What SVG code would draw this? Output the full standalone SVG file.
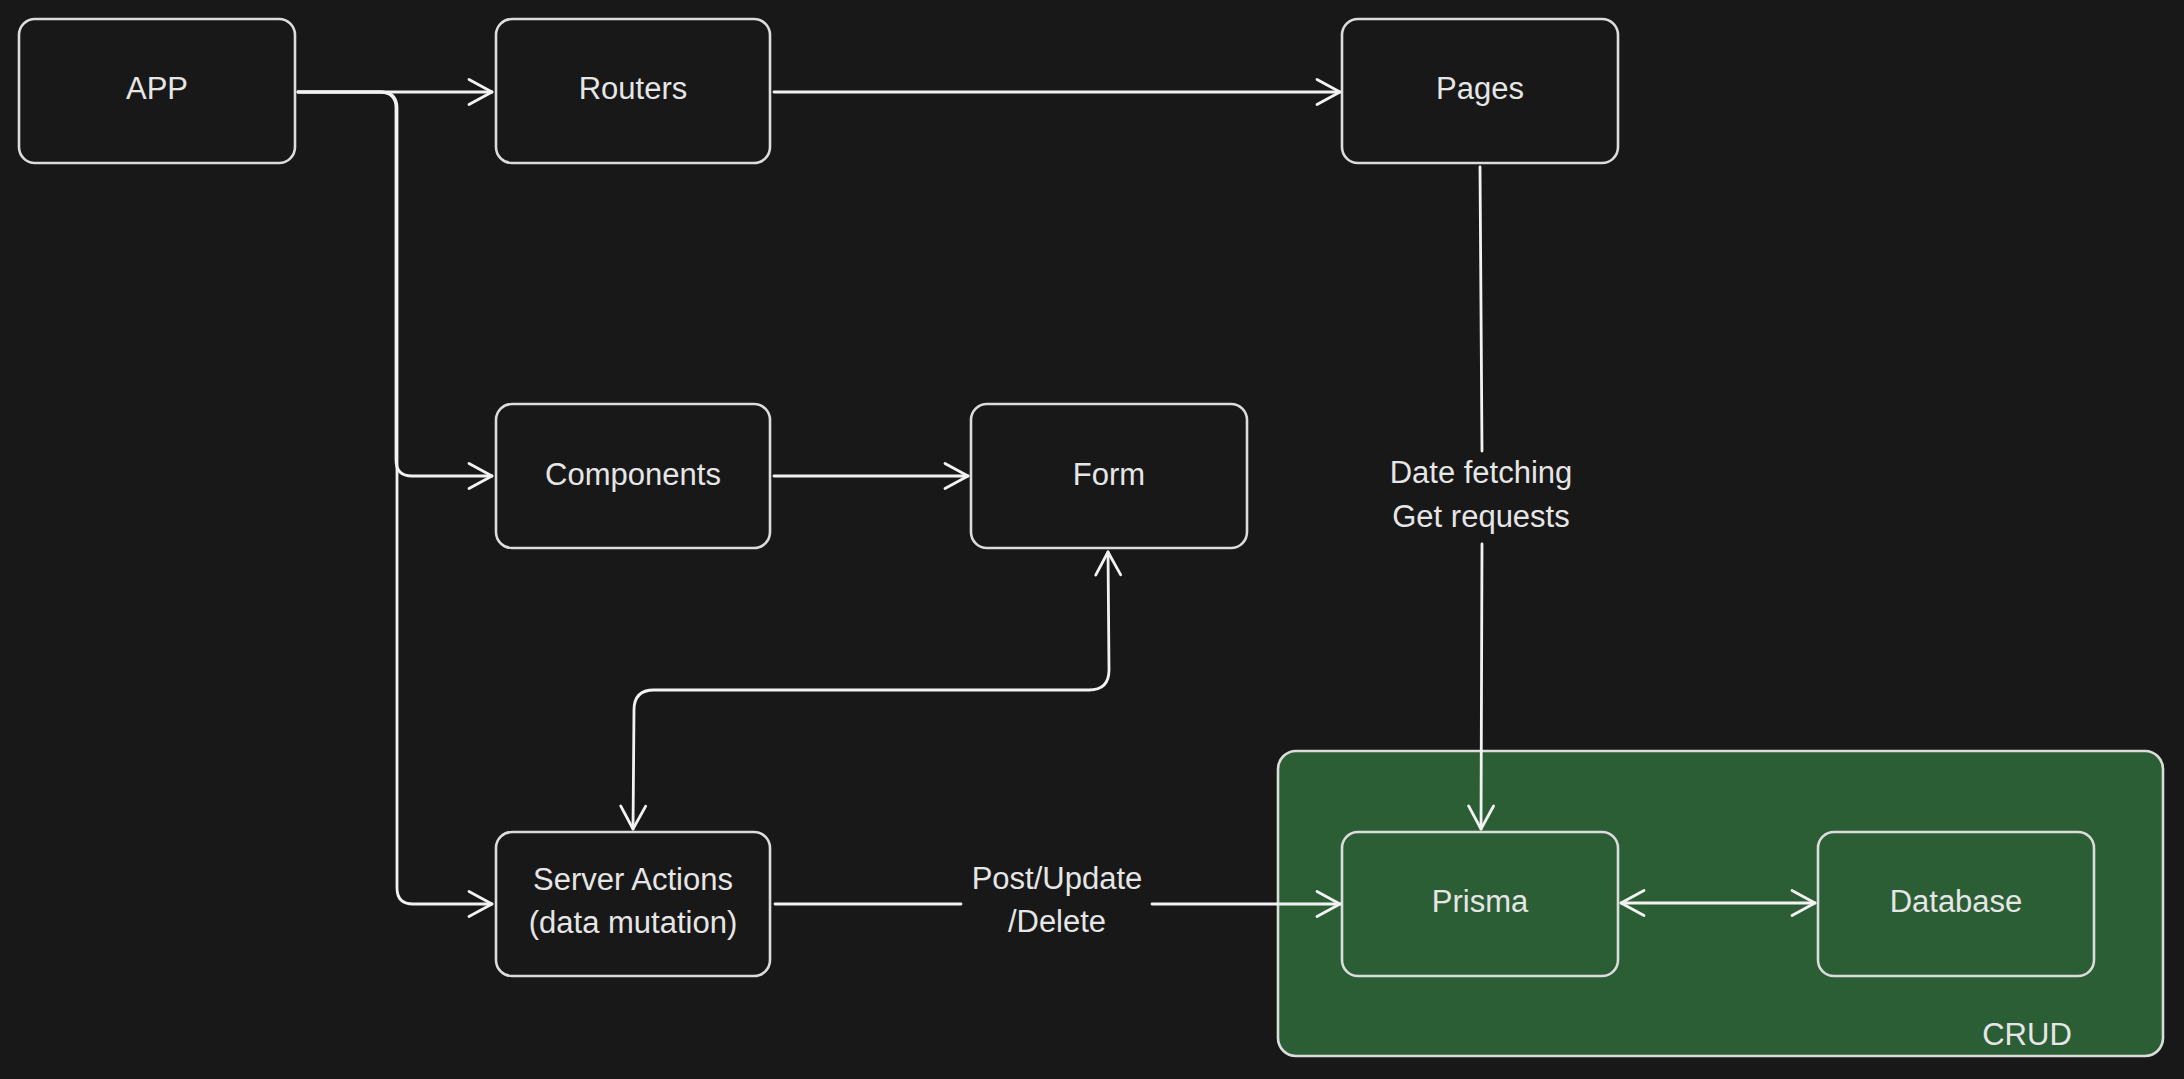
<svg xmlns="http://www.w3.org/2000/svg" width="2184" height="1079" viewBox="0 0 2184 1079">
<defs>
<style>
.box{fill:none;stroke:#dcdcdc;stroke-width:2.6}
.lbl{font-family:"Liberation Sans",Arial,sans-serif;font-size:31px;fill:#e6e6e6;text-anchor:middle}
.con{fill:none;stroke:#f2f2f2;stroke-width:2.8;stroke-linecap:round;stroke-linejoin:round}
</style>
<marker id="ah" viewBox="-30 -16 34 32" refX="0" refY="0" markerWidth="34" markerHeight="32" markerUnits="userSpaceOnUse" orient="auto-start-reverse">
<path d="M-23 -12.5 L0 0 L-23 12.5" fill="none" stroke="#f2f2f2" stroke-width="2.8" stroke-linecap="round" stroke-linejoin="round"/>
</marker>
</defs>
<rect x="0" y="0" width="2184" height="1079" fill="#181818"/>

<g id="crud">
<rect x="1278" y="751" width="885" height="305" rx="18" fill="#2c5e36" stroke="#dcdcdc" stroke-width="2.6"/>
<text class="lbl" x="2027" y="1045">CRUD</text>
</g>

<g id="app">
<rect class="box" x="19" y="19" width="276" height="144" rx="16"/>
<text class="lbl" x="157" y="99">APP</text>
</g>
<g id="routers">
<rect class="box" x="496" y="19" width="274" height="144" rx="16"/>
<text class="lbl" x="633" y="99">Routers</text>
</g>
<g id="pages">
<rect class="box" x="1342" y="19" width="276" height="144" rx="16"/>
<text class="lbl" x="1480" y="99">Pages</text>
</g>
<g id="components">
<rect class="box" x="496" y="404" width="274" height="144" rx="16"/>
<text class="lbl" x="633" y="485">Components</text>
</g>
<g id="form">
<rect class="box" x="971" y="404" width="276" height="144" rx="16"/>
<text class="lbl" x="1109" y="485">Form</text>
</g>
<g id="server-actions">
<rect class="box" x="496" y="832" width="274" height="144" rx="16"/>
<text class="lbl" x="633" y="890">Server Actions</text>
<text class="lbl" x="633" y="933">(data mutation)</text>
</g>
<g id="prisma">
<rect class="box" x="1342" y="832" width="276" height="144" rx="16"/>
<text class="lbl" x="1480" y="912">Prisma</text>
</g>
<g id="database">
<rect class="box" x="1818" y="832" width="276" height="144" rx="16"/>
<text class="lbl" x="1956" y="912">Database</text>
</g>

<g id="connectors">
<path class="con" d="M298 92 L492 92" marker-end="url(#ah)"/>
<path class="con" d="M298 92 L380 92 Q396 92 396 108 L396 460 Q396 476 412 476 L492 476" marker-end="url(#ah)"/>
<path class="con" d="M298 92 L380 92 Q397 92 397 108 L397 888 Q397 904 413 904 L492 904" marker-end="url(#ah)"/>
<path class="con" d="M774 92 L1340 92" marker-end="url(#ah)"/>
<path class="con" d="M774 476 L968 476" marker-end="url(#ah)"/>
<path class="con" d="M1108 552 L1109 670 Q1109 690 1089 690 L654 690 Q634 690 634 710 L633 829" marker-start="url(#ah)" marker-end="url(#ah)"/>
<path class="con" d="M1480 167 L1482 451"/>
<path class="con" d="M1482 544 L1481 829" marker-end="url(#ah)"/>
<text class="lbl" x="1481" y="483">Date fetching</text>
<text class="lbl" x="1481" y="527">Get requests</text>
<path class="con" d="M775 904 L961 904"/>
<path class="con" d="M1152 904 L1340 904" marker-end="url(#ah)"/>
<text class="lbl" x="1057" y="889">Post/Update</text>
<text class="lbl" x="1057" y="932">/Delete</text>
<path class="con" d="M1621 903 L1815 903" marker-start="url(#ah)" marker-end="url(#ah)"/>
</g>
</svg>
